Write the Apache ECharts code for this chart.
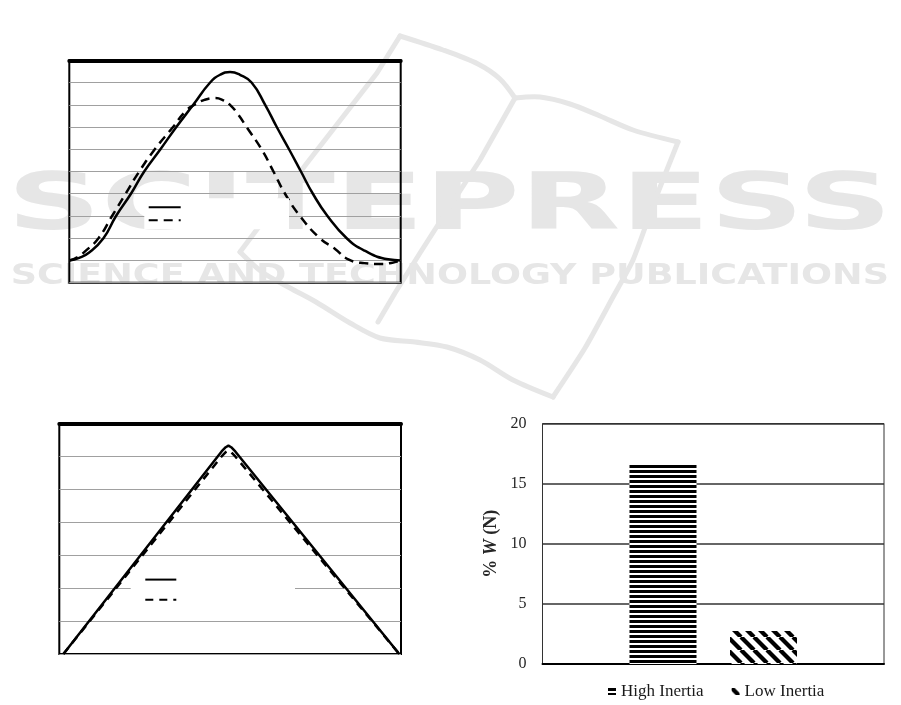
<!DOCTYPE html>
<html><head><meta charset="utf-8">
<script src="https://cdn.jsdelivr.net/npm/echarts@6/dist/echarts.min.js"></script>
<style>html,body{margin:0;padding:0;background:#fff}#c{width:901px;height:705px}</style>
</head><body><div id="c"></div>
<script>
// ---------- data ----------
// Panel (a): smooth profiles, x in % of cycle, y in grid units
const aNames = ['High Inertia (a)', 'Low Inertia (a)'];
const aSolid = [[0,1.0],[3,1.12],[6,1.36],[10.3,2],[14.1,3],[18.6,4],[22.6,5],[27.5,6],[32.3,7],[37.4,8],[42.5,9],[45.5,9.35],[48.5,9.47],[51.5,9.35],[55,9],[59.1,8],[62.6,7],[66.3,6],[69.9,5],[73.5,4],[77.9,3],[83.7,2],[89.1,1.44],[96.2,1.05],[100,1.0]];
const aDashed = [[0,1.0],[2.5,1.15],[5,1.44],[8.8,2],[12.9,3],[17.0,4],[21.1,5],[25.8,6],[31.3,7],[35,7.7],[37.8,8],[40.8,8.22],[44,8.3],[46.5,8.2],[48.5,8.0],[51,7.55],[53.5,7],[58,6],[61.6,5],[65.1,4],[69.6,3],[75.6,2],[80.2,1.52],[84.2,1.05],[89,0.88],[94.3,0.84],[97.5,0.9],[100,1.0]];
// Panel (b): triangular profiles
const bNames = ['High Inertia (b)', 'Low Inertia (b)'];
const bSolid = [[1.2,0],[47.5,6.15],[48.7,6.28],[49.5,6.33],[50.3,6.28],[51.5,6.15],[99.5,0]];
const bDashed = [[1.2,0],[47.5,6.0],[48.7,6.13],[49.5,6.18],[50.3,6.13],[51.5,6.0],[99.5,0]];
// Panel (c): bars
const cCategories = [''];
const cNames = ['High Inertia', 'Low Inertia'];
const cHigh = [16.6];
const cLow = [2.75];
const cTicks = [0, 5, 10, 15, 20];

// ---------- patterns ----------
function hStripes() {
  const c = document.createElement('canvas'); c.width = 8; c.height = 5;
  const g = c.getContext('2d');
  g.fillStyle = '#fff'; g.fillRect(0, 0, 8, 5);
  g.fillStyle = '#000'; g.fillRect(0, 0, 8, 3);
  return c;
}
function dStripes() {
  const n = 13;
  const c = document.createElement('canvas'); c.width = n; c.height = n;
  const g = c.getContext('2d');
  g.fillStyle = '#fff'; g.fillRect(0, 0, n, n);
  g.strokeStyle = '#000'; g.lineWidth = 4.3;
  for (let k = -1; k <= 1; k++) {
    g.beginPath(); g.moveTo(k * n, 0); g.lineTo(k * n + n, n); g.stroke();
  }
  return c;
}

// ---------- helpers ----------
const mctx = document.createElement('canvas').getContext('2d');
function textW(t, font) { mctx.font = font; return mctx.measureText(t).width; }

function fitText(text, font, box) {
  mctx.font = font; mctx.textBaseline = 'middle';
  const m = mctx.measureText(text);
  const L = m.actualBoundingBoxLeft, R = m.actualBoundingBoxRight;
  const A = m.actualBoundingBoxAscent, D = m.actualBoundingBoxDescent;
  const fs = parseFloat(font.match(/(\d+(\.\d+)?)px/)[1]);
  const sx = (box.x2 - box.x1) / (L + R);
  const sy = (box.y2 - box.y1) / (A + D);
  return {
    type: 'text', z: -10, silent: true,
    x: box.x1 + sx * L, y: box.y1 + sy * (A - fs / 2),
    scaleX: sx, scaleY: sy,
    style: { text: text, font: font, fill: '#e6e6e6', textAlign: 'left', textVerticalAlign: 'top' }
  };
}
function wmLine(points, smooth) {
  return { type: 'polyline', z: -10, silent: true,
    shape: { points: points, smooth: smooth || 0 },
    style: { stroke: '#e6e6e6', lineWidth: 5, fill: null, lineCap: 'round', lineJoin: 'round' } };
}

const serif = '"Liberation Serif", "Times New Roman", serif';
const chart = echarts.init(document.getElementById('c'), null, { renderer: 'canvas' });

const hidden = { axisLine: { show: false }, axisTick: { show: false }, axisLabel: { show: false }, splitLine: { show: false } };
const topLine = { axisLine: { show: true, lineStyle: { color: '#000', width: 4 } }, axisTick: { show: false }, axisLabel: { show: false }, splitLine: { show: false } };

// white legend box spanning boxLeft..boxRight
function boxLegend(names, cfg, boxLeft, boxRight, padL, padTB) {
  const font = '10px sans-serif';
  const w = Math.max.apply(null, names.map(n => textW(n, font)));
  const padR = Math.max(0, boxRight - (boxLeft + padL + cfg.itemWidth + 5 + w));
  return Object.assign({
    data: names, orient: 'vertical', backgroundColor: '#fff', selectedMode: false,
    left: boxLeft, padding: [padTB, padR, padTB, padL],
    itemStyle: { opacity: 0, borderWidth: 0 },
    textStyle: { color: '#fff', fontSize: 10, fontFamily: 'sans-serif' }
  }, cfg);
}

const option = {
  animation: false,
  backgroundColor: '#fff',
  grid: [
    { left: 69.3, right: 500.3, top: 60.3, bottom: 422.3, show: true, borderColor: '#000', borderWidth: 2, containLabel: false },
    { left: 59.3, right: 500, top: 423.5, bottom: 51, show: true, borderColor: '#000', borderWidth: 2, containLabel: false },
    { left: 542.5, right: 17, top: 423.5, bottom: 41, show: true, borderColor: '#333', borderWidth: 1, containLabel: false }
  ],
  xAxis: [
    Object.assign({ type: 'value', gridIndex: 0, min: 0, max: 100 }, hidden),
    Object.assign({ type: 'value', gridIndex: 0, min: 0, max: 100, position: 'top' }, topLine),
    Object.assign({ type: 'value', gridIndex: 1, min: 0, max: 100 }, hidden),
    Object.assign({ type: 'value', gridIndex: 1, min: 0, max: 100, position: 'top' }, topLine),
    { type: 'category', gridIndex: 2, data: cCategories, axisLine: { lineStyle: { color: '#000', width: 2 } }, axisTick: { show: false }, axisLabel: { show: false } }
  ],
  yAxis: [
    { type: 'value', gridIndex: 0, min: 0, max: 10, interval: 1, axisLine: { show: false }, axisTick: { show: false }, axisLabel: { show: false }, splitLine: { lineStyle: { color: '#a0a0a0', width: 1 } } },
    { type: 'value', gridIndex: 1, min: 0, max: 7, interval: 1, axisLine: { show: false }, axisTick: { show: false }, axisLabel: { show: false }, splitLine: { lineStyle: { color: '#a0a0a0', width: 1 } } },
    { type: 'value', gridIndex: 2, min: cTicks[0], max: cTicks[cTicks.length - 1], interval: cTicks[1] - cTicks[0],
      axisLine: { show: false }, axisTick: { show: false },
      axisLabel: { fontFamily: serif, fontSize: 16, color: '#262626', margin: 16 },
      splitLine: { lineStyle: { color: '#333', width: 1.5 } },
      name: '{b|% }{bi|W}{b| (N)}', nameLocation: 'middle', nameRotate: 90, nameGap: 42,
      nameTextStyle: { rich: {
        b: { fontFamily: serif, fontSize: 18, fontWeight: 'bold', color: '#262626' },
        bi: { fontFamily: serif, fontSize: 18, fontWeight: 'bold', fontStyle: 'italic', color: '#262626' } } } }
  ],
  legend: [
    boxLegend(aNames, { top: 198.3, itemWidth: 32, itemHeight: 12, itemGap: 3 }, 144.3, 288, 3.4, 4),
    boxLegend(bNames, { top: 571, itemWidth: 31, itemHeight: 14, itemGap: 9 }, 130.7, 294, 13.6, 3),
    { data: cNames, left: 608, top: 683, orient: 'horizontal', icon: 'rect', itemWidth: 8, itemHeight: 7, itemGap: 28,
      padding: 0, selectedMode: false,
      textStyle: { fontFamily: serif, fontSize: 17, color: '#1a1a1a' } }
  ],
  series: [
    { type: 'line', name: aNames[0], xAxisIndex: 0, yAxisIndex: 0, data: aSolid, smooth: 0.5, symbol: 'none',
      lineStyle: { color: '#000', width: 2.5 }, itemStyle: { color: '#000' } },
    { type: 'line', name: aNames[1], xAxisIndex: 0, yAxisIndex: 0, data: aDashed, smooth: 0.5, symbol: 'none',
      lineStyle: { color: '#000', width: 2.5, type: [9, 6] }, itemStyle: { color: '#000' } },
    { type: 'line', name: bNames[0], xAxisIndex: 2, yAxisIndex: 1, data: bSolid, symbol: 'none',
      lineStyle: { color: '#000', width: 2.5 }, itemStyle: { color: '#000' } },
    { type: 'line', name: bNames[1], xAxisIndex: 2, yAxisIndex: 1, data: bDashed, symbol: 'none',
      lineStyle: { color: '#000', width: 2.5, type: [8, 6] }, itemStyle: { color: '#000' } },
    { type: 'bar', name: cNames[0], xAxisIndex: 4, yAxisIndex: 2, data: cHigh, barWidth: 67, barGap: '50%',
      itemStyle: { color: { image: hStripes(), repeat: 'repeat' } } },
    { type: 'bar', name: cNames[1], xAxisIndex: 4, yAxisIndex: 2, data: cLow, barWidth: 67, barGap: '50%',
      itemStyle: { color: { image: dStripes(), repeat: 'repeat' } } }
  ],
  graphic: [
    fitText('SCITEPRESS', 'bold 82px "DejaVu Sans"', { x1: 15, x2: 884, y1: 170, y2: 230 }),
    fitText('SCIENCE AND TECHNOLOGY PUBLICATIONS', 'bold 27px "DejaVu Sans"', { x1: 12, x2: 887, y1: 263, y2: 283.5 }),
    wmLine([[400,36],[443,50],[478,64],[500,79],[515,98]], 0.3),
    wmLine([[515,98],[540,97],[570,104],[600,116],[633,130],[678,142]], 0.3),
    wmLine([[678,142],[655,200],[633,260],[613,297],[585,348],[553,397]], 0.2),
    wmLine([[400,36],[377,73],[307,163],[255,232],[240,252]], 0),
    wmLine([[240,252],[262,272],[290,288],[316,302],[350,323],[380,338],[415,342],[447,347],[480,360],[513,380],[553,397]], 0.3),
    wmLine([[515,98],[480,160],[443,217],[420,253],[395,293],[378,322]], 0)
  ]
};
chart.setOption(option);
</script>
</body></html>
